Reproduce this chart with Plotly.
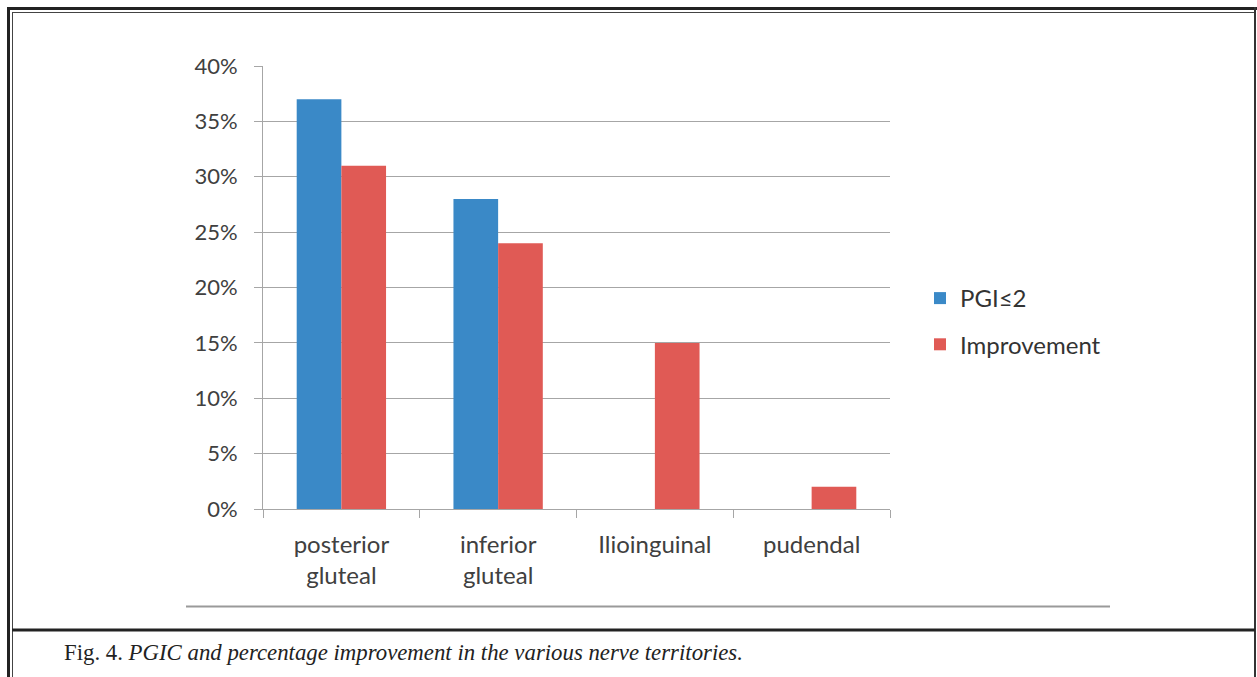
import plotly.graph_objects as go

categories = ["posterior<br>gluteal", "inferior<br>gluteal", "Ilioinguinal", "pudendal"]
pgi_values = [37, 28, 0, 0]
improvement_values = [31, 24, 15, 2]
series_names = ["PGI≤2", "Improvement"]
y_ticks = [0, 5, 10, 15, 20, 25, 30, 35, 40]
y_tick_labels = [f"{v}%" for v in y_ticks]
caption_prefix = "Fig. 4. "
caption_text = "PGIC and percentage improvement in the various nerve territories."

W, H = 1257, 677
L, R, T, B = 263, 890, 66, 509


def px(x):
    return (x - L) / (R - L)


def py(y):
    return (B - y) / (B - T)


fig = go.Figure()
fig.add_trace(go.Bar(x=categories, y=pgi_values, name=series_names[0],
                     marker=dict(color="#3A89C7", line=dict(width=0)),
                     legendgroup="a"))
fig.add_trace(go.Bar(x=categories, y=improvement_values, name=series_names[1],
                     marker=dict(color="#E05A55", line=dict(width=0)),
                     legendgroup="b"))

shapes = []
# outer double border
shapes.append(dict(type="line", xref="paper", yref="paper", x0=px(8.5), x1=px(8.5), y0=py(7), y1=py(H + 2),
                   line=dict(color="#222", width=3)))
shapes.append(dict(type="line", xref="paper", yref="paper", x0=px(7), x1=px(W), y0=py(8.5), y1=py(8.5),
                   line=dict(color="#222", width=3)))
shapes.append(dict(type="line", xref="paper", yref="paper", x0=px(12.5), x1=px(12.5), y0=py(12), y1=py(H + 2),
                   line=dict(color="#444", width=1)))
shapes.append(dict(type="line", xref="paper", yref="paper", x0=px(12), x1=px(W - 3), y0=py(12.5), y1=py(12.5),
                   line=dict(color="#444", width=1)))
shapes.append(dict(type="line", xref="paper", yref="paper", x0=px(W - 2), x1=px(W - 2), y0=py(7), y1=py(H + 2),
                   line=dict(color="#333", width=2)))
# separator above caption
shapes.append(dict(type="line", xref="paper", yref="paper", x0=px(12), x1=px(W - 2), y0=py(630), y1=py(630),
                   line=dict(color="#222", width=3)))
# chart area bottom edge
shapes.append(dict(type="line", xref="paper", yref="paper", x0=px(186), x1=px(1110), y0=py(606.5), y1=py(606.5),
                   line=dict(color="#9a9a9a", width=2)))

fig.update_layout(
    width=W, height=H,
    margin=dict(l=L, r=W - R, t=T, b=H - B, pad=0),
    paper_bgcolor="white", plot_bgcolor="white",
    barmode="group", bargap=0.43, bargroupgap=0,
    font=dict(family="Lato, Carlito, sans-serif", color="#404040"),
    showlegend=True,
    legend=dict(x=px(920), y=py(276), xanchor="left", yanchor="top",
                font=dict(size=24, color="#333"), tracegroupgap=12,
                bgcolor="rgba(0,0,0,0)", itemwidth=30),
    shapes=shapes,
)
fig.update_yaxes(range=[0, 40], tickvals=y_ticks, ticktext=y_tick_labels,
                 showgrid=True, gridcolor="#a6a6a6", gridwidth=1,
                 showline=True, linecolor="#a6a6a6", linewidth=1,
                 ticks="outside", ticklen=8, tickcolor="#a6a6a6", ticklabelstandoff=12,
                 tickfont=dict(size=22, color="#404040"), zeroline=False)
fig.update_xaxes(showline=True, linecolor="#a6a6a6", linewidth=1,
                 ticks="outside", ticklen=8, tickcolor="#a6a6a6", tickson="boundaries",
                 ticklabelstandoff=14,
                 tickfont=dict(size=24, color="#404040"), showgrid=False)

fig.add_annotation(xref="paper", yref="paper", x=px(62), y=py(652), xanchor="left", yanchor="middle",
                   showarrow=False,
                   text=caption_prefix + "<i>" + caption_text + "</i>",
                   font=dict(family="Liberation Serif, serif", size=22.8, color="#222"))

fig.write_html("out.html")
